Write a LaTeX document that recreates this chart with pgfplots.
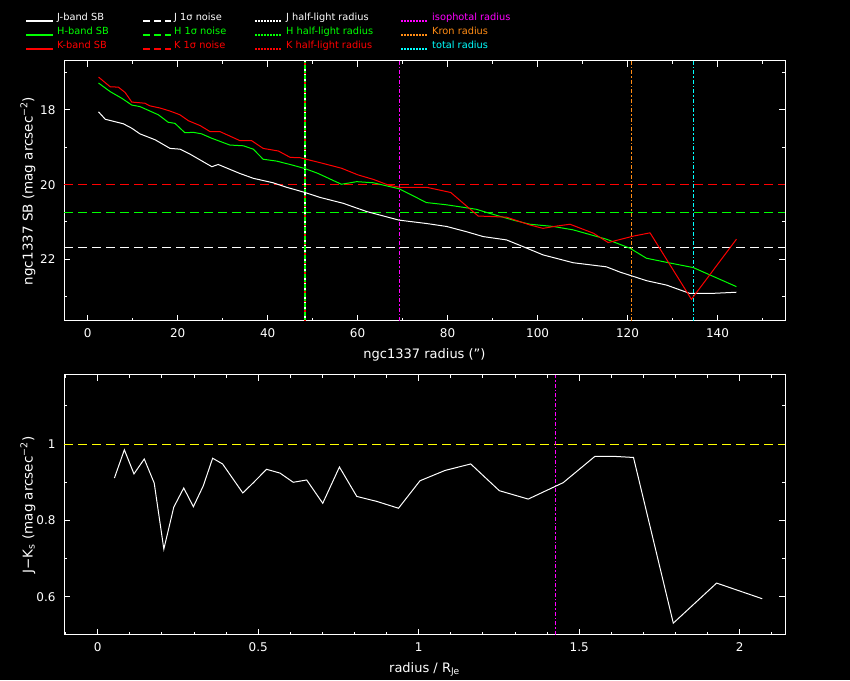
\documentclass[border=0pt]{standalone}
\usepackage{fontspec}
\setmainfont{DejaVu Sans}
\usepackage{pgfplots}
\pgfplotsset{compat=1.18}
\definecolor{kron}{RGB}{255,140,20}
\definecolor{mag}{RGB}{255,0,255}
\definecolor{cyn}{RGB}{0,255,255}
\definecolor{grn}{RGB}{0,255,0}
\definecolor{yel}{RGB}{255,255,0}
\begin{document}
\begin{tikzpicture}
\fill[black] (0pt,0pt) rectangle (850pt,680pt);
\pgfplotsset{
 pgstyle/.style={
  scale only axis, width=721pt, height=260pt, anchor=south west,
  axis line style={white, line width=1pt},
  tick style={white, line width=1pt},
  tick align=inside, tick pos=both,
  major tick length=6pt, minor tick length=3pt,
  ticklabel style={white, font=\fontsize{12}{14}\selectfont},
  xticklabel style={yshift=-4pt},
  yticklabel style={xshift=-5pt},
  /pgf/number format/assume math mode=true,
  every axis x label/.style={at={(axis description cs:0.5,0)}, anchor=north, yshift=-24pt, font=\fontsize{13}{15}\selectfont, text=white},
  every axis y label/.style={at={(axis description cs:-0.0395,0.5)}, anchor=south, rotate=90, inner sep=0pt, font=\fontsize{13.5}{15}\selectfont, text=white},
 },
 vdash/.style={line width=1.2pt, dash pattern=on 4pt off 2pt on 1.5pt off 2pt},
 noise/.style={line width=1pt, dash pattern=on 9pt off 5pt},
}
% ---------------- top panel ----------------
\begin{axis}[pgstyle, at={(64pt,359pt)},
  xmin=-5.27, xmax=155, ymin=16.69, ymax=23.65, y dir=reverse,
  xtick={0,20,...,140}, minor xtick={10,30,50,70,90,110,130,150},
  ytick={18,20,22}, minor ytick={17,19,21,23},
  xlabel={ngc1337 radius (")},
  ylabel={ngc1337 SB (mag arcsec\textsuperscript{−2})},
]
\addplot[noise, red] coordinates {(-5.27,20.0) (155,20.0)};
\addplot[noise, grn] coordinates {(-5.27,20.74) (155,20.74)};
\addplot[noise, white] coordinates {(-5.27,21.68) (155,21.68)};
\addplot[vdash, red] coordinates {(48.3,16.69) (48.3,23.65)};
\addplot[vdash, white, dash phase=2pt] coordinates {(48.3,16.69) (48.3,23.65)};
\addplot[vdash, grn, dash phase=5pt] coordinates {(48.3,16.69) (48.3,23.65)};
\addplot[vdash, mag] coordinates {(69.3,16.69) (69.3,23.65)};
\addplot[vdash, kron] coordinates {(120.8,16.69) (120.8,23.65)};
\addplot[vdash, cyn] coordinates {(134.6,16.69) (134.6,23.65)};
% J band
\addplot[white, line width=1pt] coordinates {
(2.4,18.05) (3.9,18.25) (7.9,18.37) (9.8,18.49) (11.6,18.64) (15.0,18.80) (18.3,19.03) (20.5,19.05) (22.7,19.18) (25.0,19.34) (27.6,19.52) (29.0,19.46) (33.8,19.70) (36.8,19.83) (41.2,19.95) (44.2,20.07) (48.3,20.21) (51.6,20.34) (56.8,20.50) (62.0,20.72) (69.2,20.95) (75.3,21.04) (79.8,21.12) (84.2,21.26) (87.9,21.39) (93.1,21.48) (97.6,21.70) (101.2,21.88) (107.9,22.09) (115.3,22.20) (118.3,22.34) (124.2,22.57) (128.7,22.69) (133.8,22.91) (139.0,22.91) (144.2,22.88)};
% H band
\addplot[grn, line width=1pt] coordinates {
(2.4,17.28) (5.0,17.51) (7.6,17.69) (9.8,17.87) (11.6,17.91) (15.7,18.13) (17.9,18.33) (19.4,18.36) (21.6,18.61) (23.5,18.60) (25.3,18.64) (27.6,18.76) (31.6,18.94) (34.6,18.96) (36.8,19.05) (39.0,19.32) (42.0,19.37) (45.3,19.47) (48.3,19.57) (51.2,19.70) (56.4,19.99) (59.8,19.92) (63.5,19.95) (69.2,20.11) (75.3,20.48) (79.8,20.54) (86.4,20.66) (89.4,20.77) (94.6,20.95) (98.3,21.06) (103.5,21.12) (107.9,21.21) (115.3,21.46) (120.5,21.70) (124.2,21.97) (128.7,22.08) (134.6,22.22) (144.2,22.73)};
% K band
\addplot[red, line width=1pt] coordinates {
(2.4,17.12) (5.0,17.38) (6.8,17.39) (8.3,17.53) (9.8,17.79) (12.7,17.82) (13.8,17.89) (16.1,17.95) (18.3,18.03) (20.5,18.13) (22.4,18.29) (25.0,18.42) (27.2,18.58) (29.4,18.58) (33.8,18.82) (36.4,18.82) (39.0,19.03) (42.4,19.10) (45.0,19.27) (47.2,19.28) (51.6,19.41) (56.4,19.56) (60.1,19.74) (63.5,19.86) (66.8,20.01) (69.4,20.07) (75.3,20.07) (80.7,20.21) (86.8,20.84) (93.1,20.87) (98.3,21.08) (101.2,21.17) (104.2,21.11) (107.2,21.06) (112.4,21.30) (115.7,21.55) (121.2,21.38) (125.0,21.29) (134.2,23.07) (144.2,21.46)};
\end{axis}
% ---------------- bottom panel ----------------
\begin{axis}[pgstyle, at={(64pt,45pt)},
  xmin=-0.105, xmax=2.141, ymin=0.5, ymax=1.181,
  xtick={0,0.5,1,1.5,2},
  minor xtick={-0.1,0.1,0.2,0.3,0.4,0.6,0.7,0.8,0.9,1.1,1.2,1.3,1.4,1.6,1.7,1.8,1.9,2.1},
  ytick={0.6,0.8,1}, minor ytick={0.7,0.9,1.1},
  xlabel={radius / R\textsubscript{Je}},
  ylabel={J−K\textsubscript{s} (mag arcsec\textsuperscript{−2})},
]
\addplot[noise, yel] coordinates {(-0.105,1) (2.141,1)};
\addplot[vdash, mag] coordinates {(1.427,0.5) (1.427,1.181)};
\addplot[white, line width=1pt] coordinates {
(0.052,0.911) (0.083,0.985) (0.113,0.922) (0.145,0.961) (0.176,0.898) (0.206,0.725) (0.237,0.835) (0.268,0.885) (0.298,0.836) (0.329,0.891) (0.358,0.963) (0.389,0.948) (0.452,0.872) (0.485,0.899) (0.526,0.934) (0.568,0.924) (0.609,0.900) (0.651,0.906) (0.701,0.845) (0.753,0.940) (0.807,0.863) (0.869,0.850) (0.937,0.832) (1.004,0.904) (1.082,0.931) (1.162,0.948) (1.251,0.878) (1.341,0.856) (1.450,0.899) (1.549,0.968) (1.606,0.968) (1.669,0.965) (1.793,0.531) (1.928,0.636) (2.070,0.595)};
\end{axis}
% ---------------- legend ----------------
\begin{scope}[font=\fontsize{9.8}{12}\selectfont]
\draw[white, line width=1.2pt] (26pt,659pt) -- (53pt,659pt); \node[anchor=base west, text=white, inner sep=0pt] at (57pt,659.5pt) {J-band SB};
\draw[grn, line width=1.2pt] (26pt,645pt) -- (53pt,645pt); \node[anchor=base west, text=grn, inner sep=0pt] at (57pt,645.5pt) {H-band SB};
\draw[red, line width=1.2pt] (26pt,631pt) -- (53pt,631pt); \node[anchor=base west, text=red, inner sep=0pt] at (57pt,631.5pt) {K-band SB};
\draw[white, line width=1.2pt, dash pattern=on 7pt off 4pt] (143pt,659pt) -- (171pt,659pt); \node[anchor=base west, text=white, inner sep=0pt] at (174pt,659.5pt) {J 1σ noise};
\draw[grn, line width=1.2pt, dash pattern=on 7pt off 4pt] (143pt,645pt) -- (171pt,645pt); \node[anchor=base west, text=grn, inner sep=0pt] at (174pt,645.5pt) {H 1σ noise};
\draw[red, line width=1.2pt, dash pattern=on 7pt off 4pt] (143pt,631pt) -- (171pt,631pt); \node[anchor=base west, text=red, inner sep=0pt] at (174pt,631.5pt) {K 1σ noise};
\draw[white, line width=1.2pt, dash pattern=on 1.5pt off 1.5pt] (255pt,659pt) -- (281pt,659pt); \node[anchor=base west, text=white, inner sep=0pt] at (286pt,659.5pt) {J half-light radius};
\draw[grn, line width=1.2pt, dash pattern=on 1.5pt off 1.5pt] (255pt,645pt) -- (281pt,645pt); \node[anchor=base west, text=grn, inner sep=0pt] at (286pt,645.5pt) {H half-light radius};
\draw[red, line width=1.2pt, dash pattern=on 1.5pt off 1.5pt] (255pt,631pt) -- (281pt,631pt); \node[anchor=base west, text=red, inner sep=0pt] at (286pt,631.5pt) {K half-light radius};
\draw[mag, line width=1.2pt, dash pattern=on 1.5pt off 1.5pt] (401pt,659pt) -- (427pt,659pt); \node[anchor=base west, text=mag, inner sep=0pt] at (432pt,659.5pt) {isophotal radius};
\draw[kron, line width=1.2pt, dash pattern=on 1.5pt off 1.5pt] (401pt,645pt) -- (427pt,645pt); \node[anchor=base west, text=kron, inner sep=0pt] at (432pt,645.5pt) {Kron radius};
\draw[cyn, line width=1.2pt, dash pattern=on 1.5pt off 1.5pt] (401pt,631pt) -- (427pt,631pt); \node[anchor=base west, text=cyn, inner sep=0pt] at (432pt,631.5pt) {total radius};
\end{scope}
\end{tikzpicture}
\end{document}
